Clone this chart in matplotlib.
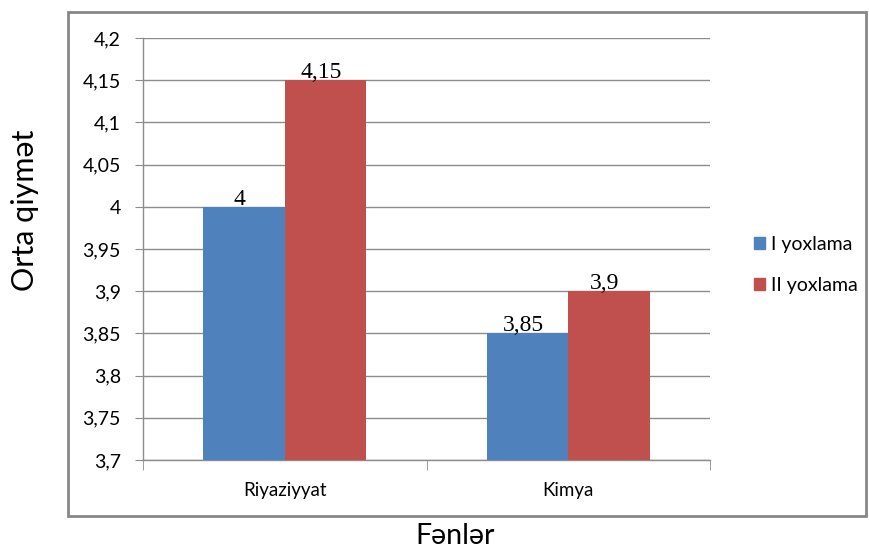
#!/usr/bin/env python3

import numpy as np
import matplotlib
matplotlib.use("Agg")
import matplotlib.pyplot as plt
from matplotlib.patches import Rectangle, Patch


##### data #####
subjects = ["Riyaziyyat", "Kimya"]
series_names = ["I yoxlama", "II yoxlama"]
first_test = [4.0, 3.85]
second_test = [4.15, 3.9]

y_ticks = [3.7, 3.75, 3.8, 3.85, 3.9, 3.95, 4.0, 4.05, 4.1, 4.15, 4.2]

COLORS = ["#4F81BD", "#C0504D"]
GRID = "#8C8C8C"
SANS = ["Lato", "DejaVu Sans"]
SERIF = ["Liberation Serif", "DejaVu Serif"]


def comma(v):
    s = f"{v:.2f}".rstrip("0").rstrip(".")
    return s.replace(".", ",")


def plot_chart():
    W, H = 869, 548
    fig = plt.figure(figsize=(W / 100, H / 100), dpi=100)

    # outer chart frame
    fig.patches.append(Rectangle((68 / W, 1 - 516 / H), 798 / W, 504 / H,
                                 transform=fig.transFigure, fill=False,
                                 edgecolor="#878787", linewidth=2))

    ax = fig.add_axes([143 / W, 1 - 460 / H, (710 - 143) / W, (460 - 38) / H])

    x = np.arange(len(subjects))
    bw = 0.287
    for i, (vals, name) in enumerate(zip([first_test, second_test], series_names)):
        xs = x + (i - 0.5) * bw
        ax.bar(xs, np.array(vals) - 3.7, bottom=3.7, width=bw,
               color=COLORS[i], zorder=3, label=name)
        for xi, v in zip(xs, vals):
            ax.annotate(comma(v), (xi - 0.015, v), xytext=(0, -2),
                        textcoords="offset points", ha="center", va="bottom",
                        fontsize=17, family=SERIF, zorder=4)

    ax.set_xlim(-0.5, len(subjects) - 0.5)
    ax.set_ylim(3.7, 4.2)

    ax.set_yticks(y_ticks)
    ax.set_yticklabels([comma(v) for v in y_ticks], family=SANS, fontsize=14)
    ax.tick_params(axis="y", length=6, color=GRID, pad=10)
    ax.yaxis.grid(True, color=GRID, linewidth=1)
    ax.set_axisbelow(True)

    ax.set_xticks(x)
    ax.set_xticklabels(subjects, family=SANS, fontsize=13.5)
    ax.set_xticks(np.arange(-0.5, len(subjects)), minor=True)
    ax.tick_params(axis="x", which="major", length=0, pad=16)
    ax.tick_params(axis="x", which="minor", length=7, color=GRID)

    for side in ["top", "right"]:
        ax.spines[side].set_visible(False)
    for side in ["left", "bottom"]:
        ax.spines[side].set_color(GRID)
        ax.spines[side].set_linewidth(1)

    handles = [Patch(color=c, label=n) for c, n in zip(COLORS, series_names)]
    fig.legend(handles=handles, loc="center left",
               bbox_to_anchor=(736 / W, 1 - 265 / H), frameon=False,
               prop={"family": SANS, "size": 14}, handlelength=0.6,
               handleheight=0.6, handletextpad=0.3, labelspacing=1.25)

    fig.text(25 / W, 1 - 210 / H, "Orta qiymət", rotation=90,
             ha="center", va="center", family=SANS, fontsize=22)
    fig.text(455 / W, 1 - 536 / H, "Fənlər", ha="center", va="center",
             family=SANS, fontsize=20.5)

    fig.savefig("out.png", dpi=100)
    plt.close(fig)


if __name__ == "__main__":
    plot_chart()
